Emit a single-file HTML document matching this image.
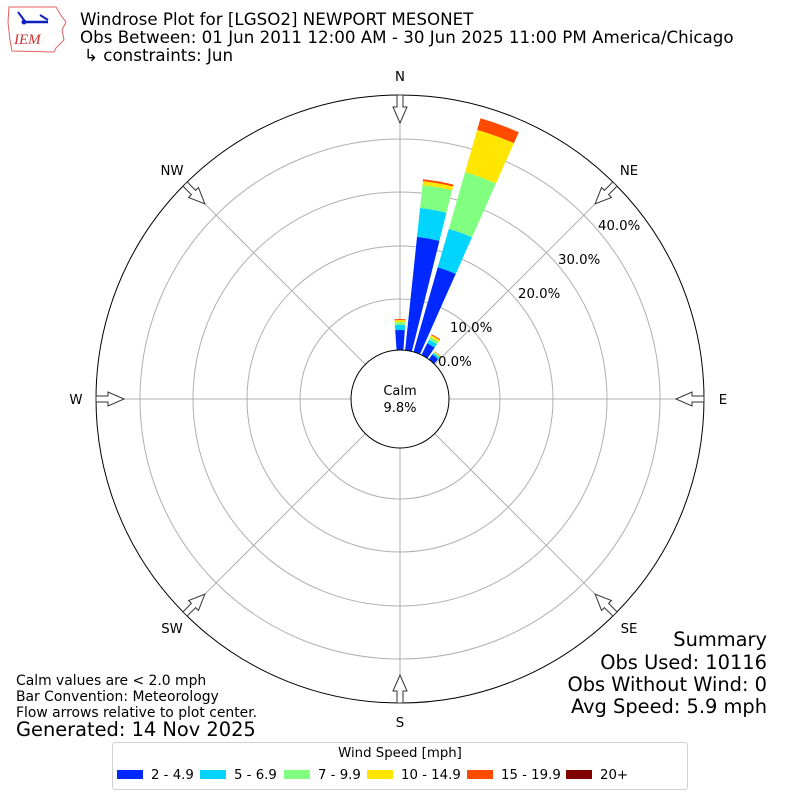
<!DOCTYPE html>
<html><head><meta charset="utf-8"><style>
body{margin:0;background:#fff;}
svg{display:block;font-family:"DejaVu Sans","Liberation Sans",sans-serif;}
</style></head><body>
<svg id="s" width="800" height="800" viewBox="0 0 800 800" xmlns="http://www.w3.org/2000/svg">
<rect width="800" height="800" fill="#fff"/>
<g>
<path d="M9,7 L56,7 L60,14 L66,22 L62,30 L64,40 L56,48 L54,52 L12,51 L10,40 L8,22 Z" fill="#fff" stroke="#e06060" stroke-width="1"/>
<line x1="24" y1="22" x2="48" y2="22" stroke="#1020c0" stroke-width="2.5"/>
<circle cx="24" cy="22" r="2.5" fill="#1020c0"/>
<path d="M18,12 L24,20 M40,15 L48,20" stroke="#1020c0" stroke-width="2"/>
<text x="14" y="44" font-family="Liberation Serif,serif" font-style="italic" font-size="15" fill="#d03030">IEM</text>
</g>
<text x="80" y="25" font-size="16.7">Windrose Plot for [LGSO2] NEWPORT MESONET</text>
<text x="80" y="43" font-size="16.7">Obs Between: 01 Jun 2011 12:00 AM - 30 Jun 2025 11:00 PM America/Chicago</text>
<text x="84" y="61" font-size="16.7">↳ constraints: Jun</text>
<g id="grid" fill="none" stroke="#b0b0b0" stroke-width="1"></g>
<g id="bars"></g>
<circle cx="400" cy="399" r="304" fill="none" stroke="#000" stroke-width="1"/>
<circle cx="400" cy="399" r="49" fill="#fff" stroke="#000" stroke-width="1"/>
<text x="400" y="395" font-size="13" text-anchor="middle">Calm</text>
<text x="400" y="412" font-size="13" text-anchor="middle">9.8%</text>
<g id="arrows"></g>
<g font-size="13.3">
<text x="438" y="366">0.0%</text>
<text x="450" y="332">10.0%</text>
<text x="518" y="298">20.0%</text>
<text x="558" y="264">30.0%</text>
<text x="598" y="230">40.0%</text>
<text x="400" y="81" text-anchor="middle">N</text>
<text x="629" y="175" text-anchor="middle">NE</text>
<text x="723" y="404" text-anchor="middle">E</text>
<text x="629" y="633" text-anchor="middle">SE</text>
<text x="400" y="727" text-anchor="middle">S</text>
<text x="172" y="633" text-anchor="middle">SW</text>
<text x="76" y="404" text-anchor="middle">W</text>
<text x="172" y="175" text-anchor="middle">NW</text>
</g>
<g font-size="13.9">
<text x="16" y="685">Calm values are &lt; 2.0 mph</text>
<text x="16" y="701">Bar Convention: Meteorology</text>
<text x="16" y="717">Flow arrows relative to plot center.</text>
</g>
<text x="16" y="736" font-size="19.4">Generated: 14 Nov 2025</text>
<g font-size="19.4" text-anchor="end">
<text x="767" y="646">Summary</text>
<text x="767" y="669">Obs Used: 10116</text>
<text x="767" y="691">Obs Without Wind: 0</text>
<text x="767" y="713">Avg Speed: 5.9 mph</text>
</g>
<rect x="112.5" y="742.5" width="575" height="47" rx="3" fill="#fff" stroke="#d0d0d0"/>
<text x="400" y="757" font-size="13.3" text-anchor="middle">Wind Speed [mph]</text>
<g font-size="13.3">
<rect x="117" y="770" width="26" height="9" fill="#0028ff"/><text x="151" y="779">2 - 4.9</text>
<rect x="200" y="770" width="26" height="9" fill="#00d4ff"/><text x="234" y="779">5 - 6.9</text>
<rect x="284" y="770" width="26" height="9" fill="#80ff80"/><text x="318" y="779">7 - 9.9</text>
<rect x="367" y="770" width="26" height="9" fill="#ffe600"/><text x="401" y="779">10 - 14.9</text>
<rect x="467" y="770" width="26" height="9" fill="#ff4a00"/><text x="501" y="779">15 - 19.9</text>
<rect x="566" y="770" width="26" height="9" fill="#800000"/><text x="600" y="779">20+</text>
</g>
</svg>
<script>
var NS="http://www.w3.org/2000/svg",cx=400,cy=399;
function el(t,a,p){var e=document.createElementNS(NS,t);for(var k in a)e.setAttribute(k,a[k]);p.appendChild(e);return e;}
function pt(r,d){var a=d*Math.PI/180;return [cx+r*Math.sin(a),cy-r*Math.cos(a)];}
var g=document.getElementById("grid");
[100,153,207,260].forEach(function(r){el("circle",{cx:cx,cy:cy,r:r},g);});
for(var d=0;d<360;d+=45){var a=pt(49,d),b=pt(304,d);el("line",{x1:a[0],y1:a[1],x2:b[0],y2:b[1]},g);}
var cols=["#0028ff","#00d4ff","#80ff80","#ffe600","#ff4a00"];
var bars=[[0,[69,74,77,79,80]],[10,[163,192,215,219,221]],[20,[137,177,236,280,292]],[30,[62,66,69,71,72]],[40,[55,57,58,58.5,59]]];
var bg=document.getElementById("bars");
bars.forEach(function(b){var c=b[0],h=4,r0=49;
b[1].forEach(function(r1,i){
var p1=pt(r0,c-h),p2=pt(r1,c-h),p3=pt(r1,c+h),p4=pt(r0,c+h);
el("path",{d:"M"+p1+"L"+p2+"A"+r1+","+r1+" 0 0 1 "+p3+"L"+p4+"A"+r0+","+r0+" 0 0 0 "+p1+"Z",fill:cols[i]},bg);r0=r1;});});
var ag=document.getElementById("arrows");
for(var d=0;d<360;d+=45){
var pts=[[-3,-304],[-3,-292],[-7,-292],[0,-276],[7,-292],[3,-292],[3,-304]];
var s=pts.map(function(p){return p.join(",");}).join(" ");
el("polygon",{points:s,fill:"#fff",stroke:"#333","stroke-width":1,transform:"translate(400,399) rotate("+d+")"},ag);}
</script>
</body></html>
